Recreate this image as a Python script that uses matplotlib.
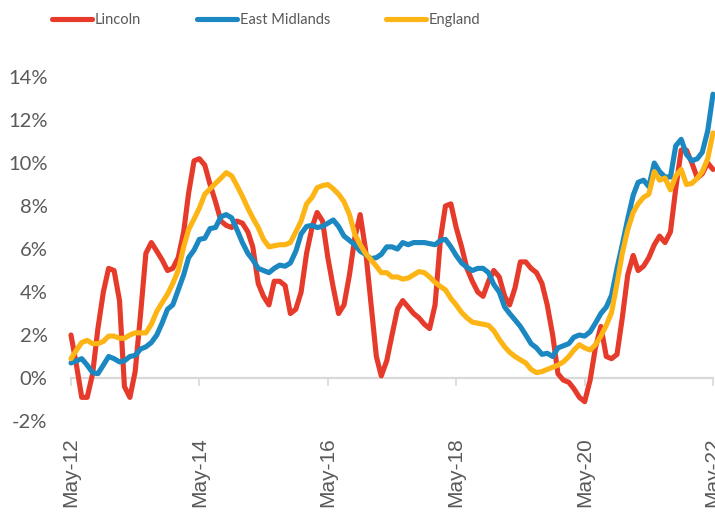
import numpy as np
import pandas as pd
import matplotlib
matplotlib.use("Agg")
import matplotlib.pyplot as plt
import matplotlib.dates as mdates
from matplotlib.ticker import FuncFormatter

months = pd.date_range("2012-05-01", periods=121, freq="MS")

lincoln = [2.0, 0.6, -0.9, -0.9, 0.2, 2.3, 4.0, 5.1, 5.0, 3.6,
           -0.4, -0.9, 0.3, 3.0, 5.8, 6.3, 5.9, 5.5, 5.0, 5.1,
           5.6, 6.8, 8.6, 10.1, 10.2, 9.9, 9.0, 8.2, 7.3, 7.1,
           7.0, 7.3, 7.2, 6.8, 6.1, 4.4, 3.8, 3.4, 4.5, 4.5,
           4.3, 3.0, 3.2, 4.0, 5.8, 7.0, 7.7, 7.3, 5.6, 4.2,
           3.0, 3.4, 4.8, 6.5, 7.6, 6.0, 3.5, 1.0, 0.1, 0.8,
           2.0, 3.2, 3.6, 3.3, 3.0, 2.8, 2.5, 2.3, 3.4, 6.5,
           8.0, 8.1, 7.0, 6.1, 5.1, 4.5, 4.0, 3.8, 4.5, 5.0,
           4.7, 3.8, 3.4, 4.2, 5.4, 5.4, 5.1, 4.9, 4.4, 3.4,
           2.0, 0.2, -0.1, -0.2, -0.5, -0.9, -1.1, -0.1, 1.4, 2.4,
           1.0, 0.9, 1.1, 2.8, 4.8, 5.7, 5.0, 5.2, 5.6, 6.2,
           6.6, 6.3, 6.8, 8.8, 10.6, 10.6, 10.0, 9.3, 9.5, 10.0,
           9.7]

east_midlands = [0.7, 0.8, 0.9, 0.6, 0.25, 0.2, 0.6, 1.0, 0.9, 0.75,
                 0.8, 1.0, 1.05, 1.35, 1.45, 1.65, 2.0, 2.55, 3.2, 3.4,
                 4.1, 4.8, 5.6, 5.95, 6.45, 6.5, 6.95, 7.0, 7.5, 7.6,
                 7.45, 6.9, 6.3, 5.8, 5.5, 5.1, 5.0, 4.9, 5.1, 5.25,
                 5.2, 5.35, 5.9, 6.7, 7.05, 7.1, 7.0, 7.05, 7.2, 7.35,
                 7.05, 6.6, 6.4, 6.2, 5.9, 5.75, 5.55, 5.6, 5.75, 6.1,
                 6.1, 6.0, 6.3, 6.2, 6.3, 6.3, 6.3, 6.25, 6.2, 6.4,
                 6.45, 6.1, 5.7, 5.35, 5.15, 5.0, 5.1, 5.1, 4.9, 4.35,
                 4.0, 3.3, 3.0, 2.7, 2.4, 2.0, 1.6, 1.4, 1.1, 1.15,
                 1.0, 1.4, 1.5, 1.6, 1.9, 2.0, 1.95, 2.15, 2.55, 3.0,
                 3.3, 3.85, 5.1, 6.2, 7.4, 8.5, 9.1, 9.2, 8.9, 10.0,
                 9.6, 9.35, 9.35, 10.8, 11.1, 10.4, 10.1, 10.2, 10.5, 11.5,
                 13.2]

england = [0.9, 1.3, 1.65, 1.75, 1.6, 1.6, 1.7, 1.95, 1.95, 1.85,
           1.85, 2.0, 2.1, 2.1, 2.1, 2.5, 3.1, 3.5, 3.9, 4.4,
           5.0, 6.1, 6.9, 7.4, 7.9, 8.55, 8.8, 9.05, 9.3, 9.55,
           9.4, 8.95, 8.45, 7.9, 7.45, 7.0, 6.45, 6.1, 6.15, 6.2,
           6.2, 6.3, 6.8, 7.3, 8.1, 8.4, 8.85, 8.95, 9.0, 8.8,
           8.55, 8.2, 7.6, 6.7, 6.2, 5.8, 5.5, 5.2, 4.9, 4.9,
           4.7, 4.7, 4.6, 4.65, 4.8, 4.95, 4.9, 4.7, 4.45, 4.25,
           4.1, 3.7, 3.4, 3.05, 2.8, 2.6, 2.55, 2.5, 2.45, 2.2,
           1.8, 1.45, 1.2, 1.0, 0.85, 0.7, 0.4, 0.25, 0.3, 0.4,
           0.5, 0.6, 0.75, 1.0, 1.3, 1.55, 1.4, 1.3, 1.55, 1.95,
           2.45, 3.05, 4.4, 5.8, 6.9, 7.7, 8.1, 8.4, 8.55, 9.6,
           9.2, 9.3, 8.75, 9.4, 9.7, 9.0, 9.05, 9.3, 9.6, 10.2,
           11.4]

series = [("Lincoln", lincoln, "#E63A2B"),
          ("East Midlands", east_midlands, "#1B88C2"),
          ("England", england, "#FDB515")]

grey = "#595959"
axis_grey = "#D9D9D9"

fig = plt.figure(figsize=(7.15, 5.13), dpi=100)
ax = fig.add_axes([71 / 715, 0.1793, 642 / 715, 0.6706])

for name, vals, col in series:
    ax.plot(months, vals, color=col, lw=3.7, label=name,
            solid_capstyle="round", solid_joinstyle="round", clip_on=False)

ax.set_xlim(months[0], months[-1])
ax.set_ylim(-2, 14)
ax.set_yticks(np.arange(-2, 15, 2))
ax.yaxis.set_major_formatter(FuncFormatter(lambda v, p: f"{v:.0f}%"))

# a tick every second May
ax.xaxis.set_major_locator(mdates.YearLocator(base=2, month=5, day=1))
ax.xaxis.set_major_formatter(mdates.DateFormatter("%b-%y"))

for s in ["top", "right", "left"]:
    ax.spines[s].set_visible(False)
ax.spines["bottom"].set_position(("data", 0))
ax.spines["bottom"].set_color(axis_grey)
ax.spines["bottom"].set_linewidth(1.6)
ax.spines["bottom"].set_zorder(0)

ax.tick_params(axis="y", length=0, pad=17, labelsize=14.5, labelcolor=grey)
ax.tick_params(axis="x", direction="out", length=6, width=1.2, color=axis_grey,
               pad=37, labelsize=15, labelcolor=grey, labelrotation=90)
for lab in ax.get_yticklabels():
    lab.set_fontfamily("Lato")
for lab in ax.get_xticklabels():
    lab.set_fontfamily("Liberation Sans")

fig.legend(loc="upper left", bbox_to_anchor=(52 / 715, 1 - 13 / 513), ncol=3,
           frameon=False, borderpad=0, borderaxespad=0,
           handlelength=2.75, handletextpad=0.2, columnspacing=3.8,
           prop={"family": "Lato", "size": 10.5}, labelcolor=grey)

fig.savefig("out.png", dpi=100)
